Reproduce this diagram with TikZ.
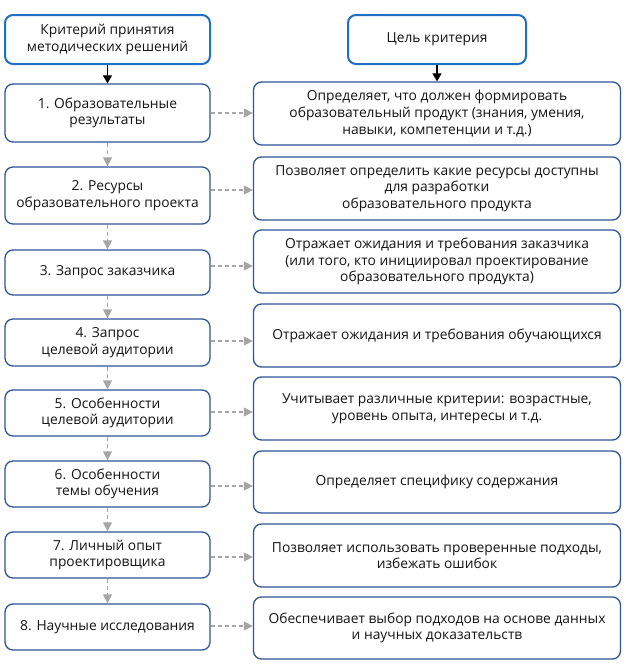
\documentclass[tikz,border=0pt]{standalone}
\usepackage{fontspec}
\setmainfont{Open Sans}
\usetikzlibrary{arrows.meta}
\definecolor{boxblue}{HTML}{2F5597}
\definecolor{topblue}{HTML}{1F6FC5}
\definecolor{arrgray}{HTML}{A6A6A6}
\begin{document}
\begin{tikzpicture}[x=1pt,y=-1pt,
  base/.style={rectangle, rounded corners=8pt, fill=white, align=center, inner sep=2pt,
    font=\fontsize{13.8}{16.6}\selectfont, text=black!92},
  lbox/.style={base, draw=boxblue, line width=1.3pt, minimum width=205pt},
  rbox/.style={base, draw=boxblue, line width=1.3pt, minimum width=367pt},
  topbox/.style={base, draw=topblue, line width=2pt},
  blackarr/.style={draw=black, line width=1.2pt, -{Triangle[length=8pt,width=9pt]}},
  grayarr/.style={draw=arrgray, line width=1.3pt, dash pattern=on 4pt off 3pt, -{Triangle[length=9pt,width=9pt]}}
]
\useasboundingbox (0,0) rectangle (625,667);

% top headers
\node[topbox, minimum width=205pt, minimum height=49pt] (t1) at (107.5,39.5) {Критерий принятия\\методических решений};
\node[topbox, minimum width=178pt, minimum height=49pt] (t2) at (437,39.5) {Цель критерия};

% left column
\node[lbox, minimum height=58pt] (l1) at (107.5,113) {1. Образовательные\\результаты};
\node[lbox, minimum height=57pt] (l2) at (107.5,195.5) {2. Ресурсы\\образовательного проекта};
\node[lbox, minimum height=45pt] (l3) at (107.5,272.5) {3. Запрос заказчика};
\node[lbox, minimum height=47pt] (l4) at (107.5,342.5) {4. Запрос\\целевой аудитории};
\node[lbox, minimum height=46pt] (l5) at (107.5,413) {5. Особенности\\целевой аудитории};
\node[lbox, minimum height=46pt] (l6) at (107.5,484) {6. Особенности\\темы обучения};
\node[lbox, minimum height=46pt] (l7) at (107.5,555) {7. Личный опыт\\проектировщика};
\node[lbox, minimum height=46pt] (l8) at (107.5,627) {8. Научные исследования};

% right column
\node[rbox, minimum height=63pt] (r1) at (437,113.5) {Определяет, что должен формировать\\образовательный продукт (знания, умения,\\навыки, компетенции и т.д.)};
\node[rbox, minimum height=63pt] (r2) at (437,188.5) {Позволяет определить какие ресурсы доступны\\для разработки\\образовательного продукта};
\node[rbox, minimum height=63pt] (r3) at (437,261.5) {Отражает ожидания и требования заказчика\\(или того, кто инициировал проектирование\\образовательного продукта)};
\node[rbox, minimum height=63pt] (r4) at (437,335.5) {Отражает ожидания и требования обучающихся};
\node[rbox, minimum height=63pt] (r5) at (437,408.5) {Учитывает различные критерии: возрастные,\\уровень опыта, интересы и т.д.};
\node[rbox, minimum height=62pt] (r6) at (437,482) {Определяет специфику содержания};
\node[rbox, minimum height=63pt] (r7) at (437,555.5) {Позволяет использовать проверенные подходы,\\избежать ошибок};
\node[rbox, minimum height=62pt] (r8) at (437,628) {Обеспечивает выбор подходов на основе данных\\и научных доказательств};

% black arrows
\draw[blackarr] (t1.south) -- (l1.north);
\draw[blackarr] (t2.south) -- (r1.north);

% vertical gray dashed
\foreach \a/\b in {l1/l2,l2/l3,l3/l4,l4/l5,l5/l6,l6/l7,l7/l8}
  \draw[grayarr] (\a.south) -- (\b.north);

% horizontal gray dashed
\foreach \i/\yy in {1/113,2/190,3/266,4/341,5/412,6/486,7/557,8/626}
  \draw[grayarr] (l\i.east |- 0,\yy) -- (r\i.west |- 0,\yy);
\end{tikzpicture}
\end{document}
